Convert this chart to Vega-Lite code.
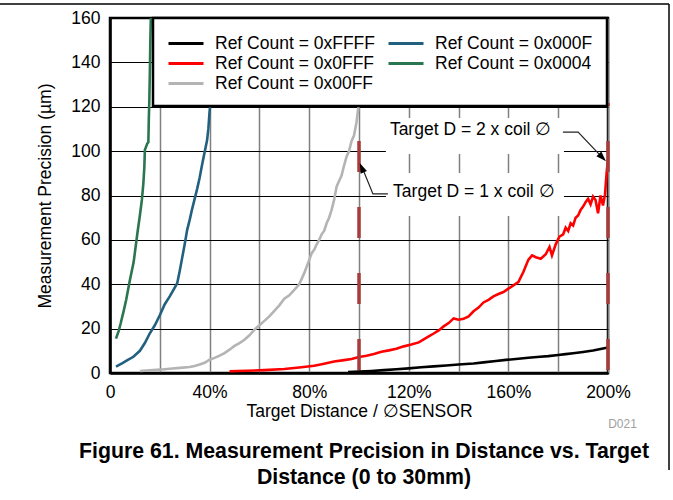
{
  "$schema": "https://vega.github.io/schema/vega-lite/v6.json",
  "width": 498,
  "height": 355,
  "autosize": {"type": "none"},
  "padding": {"left": 110, "top": 18, "right": 65, "bottom": 127},
  "background": "white",
  "config": {
    "font": "Liberation Sans",
    "view": {"stroke": "#000", "strokeWidth": 2.5},
    "legend": {"strokeWidth": 2.5},
    "axis": {"labelFont": "Liberation Sans", "titleFont": "Liberation Sans", "labelColor": "#000", "titleColor": "#000", "titleFontWeight": "normal"}
  },
  "title": {
    "text": ["Figure 61. Measurement Precision in Distance vs. Target", "Distance (0 to 30mm)"],
    "orient": "bottom",
    "anchor": "middle",
    "fontSize": 21.3,
    "fontWeight": "bold",
    "font": "Liberation Sans",
    "color": "#000",
    "lineHeight": 26,
    "offset": -30,
    "dx": 5
  },
  "encoding": {
    "x": {
      "field": "x", "type": "quantitative",
      "scale": {"domain": [0, 200], "nice": false, "zero": false},
      "axis": {
        "values": [0, 20, 40, 60, 80, 100, 120, 140, 160, 180, 200],
        "labelExpr": "datum.value % 40 == 0 ? (datum.value == 0 ? '0' : datum.value + '%') : ''",
        "title": "Target Distance / ∅SENSOR",
        "titleFontSize": 17.5,
        "titlePadding": 2,
        "labelFontSize": 17.5,
        "labelPadding": 10,
        "labelFlush": false,
        "labelOverlap": false,
        "ticks": false,
        "domainColor": "#000",
        "domainWidth": 2.5,
        "gridColor": "#808080",
        "gridWidth": 1.5,
        "gridOpacity": 1
      }
    },
    "y": {
      "field": "y", "type": "quantitative",
      "scale": {"domain": [0, 160], "nice": false, "zero": false},
      "axis": {
        "values": [0, 20, 40, 60, 80, 100, 120, 140, 160],
        "title": "Measurement Precision (µm)",
        "titleFontSize": 17.5,
        "titlePadding": 16,
        "labelFontSize": 17.5,
        "labelPadding": 10,
        "labelFlush": false,
        "ticks": false,
        "domainColor": "#000",
        "domainWidth": 2.5,
        "gridColor": "#000",
        "gridWidth": 1,
        "gridOpacity": 1
      }
    }
  },
  "layer": [
    {
      "data": {"values": [
        {"x": 110.8, "x2": 182.3, "y": 114.9, "y2": 98.7},
        {"x": 110.8, "x2": 182.3, "y": 90.1, "y2": 70.8}
      ]},
      "mark": {"type": "rect", "fill": "white", "stroke": null},
      "encoding": {"x2": {"field": "x2"}, "y2": {"field": "y2"}}
    },
    {
      "data": {"values": [
        {"s": "Ref Count = 0xFFFF", "x": 95.6, "y": 0.4}, {"s": "Ref Count = 0xFFFF", "x": 100, "y": 0.6}, {"s": "Ref Count = 0xFFFF", "x": 105, "y": 0.9}, {"s": "Ref Count = 0xFFFF", "x": 110, "y": 1.3}, {"s": "Ref Count = 0xFFFF", "x": 115, "y": 1.7}, {"s": "Ref Count = 0xFFFF", "x": 120, "y": 2.1}, {"s": "Ref Count = 0xFFFF", "x": 125, "y": 2.6}, {"s": "Ref Count = 0xFFFF", "x": 130, "y": 3.0}, {"s": "Ref Count = 0xFFFF", "x": 135, "y": 3.4}, {"s": "Ref Count = 0xFFFF", "x": 140, "y": 3.8}, {"s": "Ref Count = 0xFFFF", "x": 146, "y": 4.3}, {"s": "Ref Count = 0xFFFF", "x": 150, "y": 4.8}, {"s": "Ref Count = 0xFFFF", "x": 155, "y": 5.4}, {"s": "Ref Count = 0xFFFF", "x": 159, "y": 5.9}, {"s": "Ref Count = 0xFFFF", "x": 163, "y": 6.3}, {"s": "Ref Count = 0xFFFF", "x": 168, "y": 6.9}, {"s": "Ref Count = 0xFFFF", "x": 172.7, "y": 7.3}, {"s": "Ref Count = 0xFFFF", "x": 176, "y": 7.6}, {"s": "Ref Count = 0xFFFF", "x": 180, "y": 8.1}, {"s": "Ref Count = 0xFFFF", "x": 183, "y": 8.5}, {"s": "Ref Count = 0xFFFF", "x": 186, "y": 8.9}, {"s": "Ref Count = 0xFFFF", "x": 190, "y": 9.5}, {"s": "Ref Count = 0xFFFF", "x": 194, "y": 10.1}, {"s": "Ref Count = 0xFFFF", "x": 198, "y": 11.0}, {"s": "Ref Count = 0xFFFF", "x": 200, "y": 11.5},

        {"s": "Ref Count = 0x0FFF", "x": 48, "y": 0.8}, {"s": "Ref Count = 0x0FFF", "x": 55, "y": 1.0}, {"s": "Ref Count = 0x0FFF", "x": 62, "y": 1.3}, {"s": "Ref Count = 0x0FFF", "x": 70, "y": 1.8}, {"s": "Ref Count = 0x0FFF", "x": 76, "y": 2.5}, {"s": "Ref Count = 0x0FFF", "x": 82, "y": 3.3}, {"s": "Ref Count = 0x0FFF", "x": 86, "y": 4.2}, {"s": "Ref Count = 0x0FFF", "x": 90, "y": 5.2}, {"s": "Ref Count = 0x0FFF", "x": 94, "y": 5.8}, {"s": "Ref Count = 0x0FFF", "x": 97, "y": 6.3}, {"s": "Ref Count = 0x0FFF", "x": 100, "y": 7.2}, {"s": "Ref Count = 0x0FFF", "x": 103, "y": 7.8}, {"s": "Ref Count = 0x0FFF", "x": 106, "y": 8.6}, {"s": "Ref Count = 0x0FFF", "x": 109, "y": 9.6}, {"s": "Ref Count = 0x0FFF", "x": 112, "y": 10.2}, {"s": "Ref Count = 0x0FFF", "x": 115, "y": 10.9}, {"s": "Ref Count = 0x0FFF", "x": 118, "y": 12.0}, {"s": "Ref Count = 0x0FFF", "x": 121, "y": 12.8}, {"s": "Ref Count = 0x0FFF", "x": 124, "y": 13.8}, {"s": "Ref Count = 0x0FFF", "x": 126, "y": 15.2}, {"s": "Ref Count = 0x0FFF", "x": 128, "y": 16.5}, {"s": "Ref Count = 0x0FFF", "x": 130, "y": 17.8}, {"s": "Ref Count = 0x0FFF", "x": 132, "y": 19.2}, {"s": "Ref Count = 0x0FFF", "x": 134, "y": 21.0}, {"s": "Ref Count = 0x0FFF", "x": 136, "y": 22.5}, {"s": "Ref Count = 0x0FFF", "x": 138, "y": 24.6}, {"s": "Ref Count = 0x0FFF", "x": 140, "y": 24.0}, {"s": "Ref Count = 0x0FFF", "x": 142, "y": 24.4}, {"s": "Ref Count = 0x0FFF", "x": 144, "y": 25.5}, {"s": "Ref Count = 0x0FFF", "x": 146, "y": 27.8}, {"s": "Ref Count = 0x0FFF", "x": 148, "y": 29.5}, {"s": "Ref Count = 0x0FFF", "x": 150, "y": 31.8}, {"s": "Ref Count = 0x0FFF", "x": 152, "y": 33.0}, {"s": "Ref Count = 0x0FFF", "x": 154, "y": 34.5}, {"s": "Ref Count = 0x0FFF", "x": 156, "y": 35.6}, {"s": "Ref Count = 0x0FFF", "x": 158, "y": 36.5}, {"s": "Ref Count = 0x0FFF", "x": 160, "y": 38.0}, {"s": "Ref Count = 0x0FFF", "x": 162, "y": 39.5}, {"s": "Ref Count = 0x0FFF", "x": 164, "y": 41.0}, {"s": "Ref Count = 0x0FFF", "x": 166, "y": 45.5}, {"s": "Ref Count = 0x0FFF", "x": 168, "y": 51.0}, {"s": "Ref Count = 0x0FFF", "x": 169.5, "y": 53.0}, {"s": "Ref Count = 0x0FFF", "x": 171, "y": 52.2}, {"s": "Ref Count = 0x0FFF", "x": 173, "y": 51.5}, {"s": "Ref Count = 0x0FFF", "x": 175, "y": 53.5}, {"s": "Ref Count = 0x0FFF", "x": 176.5, "y": 56.8}, {"s": "Ref Count = 0x0FFF", "x": 177.5, "y": 53.0}, {"s": "Ref Count = 0x0FFF", "x": 179, "y": 58.0}, {"s": "Ref Count = 0x0FFF", "x": 180.5, "y": 61.5}, {"s": "Ref Count = 0x0FFF", "x": 182, "y": 62.5}, {"s": "Ref Count = 0x0FFF", "x": 183, "y": 65.5}, {"s": "Ref Count = 0x0FFF", "x": 184, "y": 64.0}, {"s": "Ref Count = 0x0FFF", "x": 185, "y": 67.5}, {"s": "Ref Count = 0x0FFF", "x": 186, "y": 66.5}, {"s": "Ref Count = 0x0FFF", "x": 187, "y": 70.0}, {"s": "Ref Count = 0x0FFF", "x": 188, "y": 71.0}, {"s": "Ref Count = 0x0FFF", "x": 189, "y": 73.5}, {"s": "Ref Count = 0x0FFF", "x": 190, "y": 75.0}, {"s": "Ref Count = 0x0FFF", "x": 191, "y": 77.0}, {"s": "Ref Count = 0x0FFF", "x": 192, "y": 78.5}, {"s": "Ref Count = 0x0FFF", "x": 193, "y": 76.0}, {"s": "Ref Count = 0x0FFF", "x": 194, "y": 79.5}, {"s": "Ref Count = 0x0FFF", "x": 195, "y": 78.0}, {"s": "Ref Count = 0x0FFF", "x": 196, "y": 72.0}, {"s": "Ref Count = 0x0FFF", "x": 197, "y": 80.0}, {"s": "Ref Count = 0x0FFF", "x": 198, "y": 75.5}, {"s": "Ref Count = 0x0FFF", "x": 198.8, "y": 80.5}, {"s": "Ref Count = 0x0FFF", "x": 199.5, "y": 91.0}, {"s": "Ref Count = 0x0FFF", "x": 200, "y": 96.0},

        {"s": "Ref Count = 0x00FF", "x": 12, "y": 0.9}, {"s": "Ref Count = 0x00FF", "x": 16, "y": 1.2}, {"s": "Ref Count = 0x00FF", "x": 20, "y": 1.5}, {"s": "Ref Count = 0x00FF", "x": 24, "y": 1.9}, {"s": "Ref Count = 0x00FF", "x": 28, "y": 2.3}, {"s": "Ref Count = 0x00FF", "x": 32, "y": 2.7}, {"s": "Ref Count = 0x00FF", "x": 34, "y": 3.2}, {"s": "Ref Count = 0x00FF", "x": 36, "y": 3.8}, {"s": "Ref Count = 0x00FF", "x": 38, "y": 4.6}, {"s": "Ref Count = 0x00FF", "x": 40, "y": 6.0}, {"s": "Ref Count = 0x00FF", "x": 42, "y": 6.8}, {"s": "Ref Count = 0x00FF", "x": 44, "y": 7.8}, {"s": "Ref Count = 0x00FF", "x": 46, "y": 9.0}, {"s": "Ref Count = 0x00FF", "x": 48, "y": 10.5}, {"s": "Ref Count = 0x00FF", "x": 50, "y": 12.2}, {"s": "Ref Count = 0x00FF", "x": 52, "y": 13.5}, {"s": "Ref Count = 0x00FF", "x": 54, "y": 15.0}, {"s": "Ref Count = 0x00FF", "x": 56, "y": 17.0}, {"s": "Ref Count = 0x00FF", "x": 58, "y": 19.5}, {"s": "Ref Count = 0x00FF", "x": 60, "y": 21.5}, {"s": "Ref Count = 0x00FF", "x": 62, "y": 23.5}, {"s": "Ref Count = 0x00FF", "x": 64, "y": 25.5}, {"s": "Ref Count = 0x00FF", "x": 66, "y": 28.0}, {"s": "Ref Count = 0x00FF", "x": 68, "y": 30.5}, {"s": "Ref Count = 0x00FF", "x": 70, "y": 33.5}, {"s": "Ref Count = 0x00FF", "x": 72, "y": 35.0}, {"s": "Ref Count = 0x00FF", "x": 74, "y": 37.5}, {"s": "Ref Count = 0x00FF", "x": 76, "y": 40.0}, {"s": "Ref Count = 0x00FF", "x": 78, "y": 45.0}, {"s": "Ref Count = 0x00FF", "x": 80, "y": 51.0}, {"s": "Ref Count = 0x00FF", "x": 81, "y": 54.0}, {"s": "Ref Count = 0x00FF", "x": 82, "y": 55.5}, {"s": "Ref Count = 0x00FF", "x": 83, "y": 58.0}, {"s": "Ref Count = 0x00FF", "x": 84, "y": 60.0}, {"s": "Ref Count = 0x00FF", "x": 85, "y": 62.5}, {"s": "Ref Count = 0x00FF", "x": 86, "y": 64.0}, {"s": "Ref Count = 0x00FF", "x": 87, "y": 67.5}, {"s": "Ref Count = 0x00FF", "x": 88, "y": 70.0}, {"s": "Ref Count = 0x00FF", "x": 89, "y": 73.5}, {"s": "Ref Count = 0x00FF", "x": 90, "y": 78.0}, {"s": "Ref Count = 0x00FF", "x": 91, "y": 84.0}, {"s": "Ref Count = 0x00FF", "x": 92, "y": 86.5}, {"s": "Ref Count = 0x00FF", "x": 93, "y": 89.0}, {"s": "Ref Count = 0x00FF", "x": 94, "y": 93.5}, {"s": "Ref Count = 0x00FF", "x": 95, "y": 97.5}, {"s": "Ref Count = 0x00FF", "x": 96, "y": 100.0}, {"s": "Ref Count = 0x00FF", "x": 97, "y": 104.5}, {"s": "Ref Count = 0x00FF", "x": 98, "y": 107.0}, {"s": "Ref Count = 0x00FF", "x": 99, "y": 113.0}, {"s": "Ref Count = 0x00FF", "x": 100, "y": 122.0},

        {"s": "Ref Count = 0x000F", "x": 2.4, "y": 2.9}, {"s": "Ref Count = 0x000F", "x": 5, "y": 4.5}, {"s": "Ref Count = 0x000F", "x": 7, "y": 5.8}, {"s": "Ref Count = 0x000F", "x": 9.4, "y": 7.3}, {"s": "Ref Count = 0x000F", "x": 12, "y": 10.0}, {"s": "Ref Count = 0x000F", "x": 14, "y": 13.5}, {"s": "Ref Count = 0x000F", "x": 16, "y": 17.9}, {"s": "Ref Count = 0x000F", "x": 18, "y": 21.5}, {"s": "Ref Count = 0x000F", "x": 20, "y": 26.0}, {"s": "Ref Count = 0x000F", "x": 22, "y": 31.0}, {"s": "Ref Count = 0x000F", "x": 24, "y": 34.5}, {"s": "Ref Count = 0x000F", "x": 26, "y": 38.5}, {"s": "Ref Count = 0x000F", "x": 27, "y": 40.5}, {"s": "Ref Count = 0x000F", "x": 28, "y": 46.0}, {"s": "Ref Count = 0x000F", "x": 29, "y": 52.0}, {"s": "Ref Count = 0x000F", "x": 30, "y": 58.0}, {"s": "Ref Count = 0x000F", "x": 31, "y": 64.5}, {"s": "Ref Count = 0x000F", "x": 32, "y": 69.0}, {"s": "Ref Count = 0x000F", "x": 33, "y": 74.0}, {"s": "Ref Count = 0x000F", "x": 34, "y": 78.5}, {"s": "Ref Count = 0x000F", "x": 35, "y": 83.0}, {"s": "Ref Count = 0x000F", "x": 36, "y": 88.0}, {"s": "Ref Count = 0x000F", "x": 37, "y": 94.0}, {"s": "Ref Count = 0x000F", "x": 38, "y": 99.5}, {"s": "Ref Count = 0x000F", "x": 39, "y": 105.0}, {"s": "Ref Count = 0x000F", "x": 39.5, "y": 110.0}, {"s": "Ref Count = 0x000F", "x": 40, "y": 118.0}, {"s": "Ref Count = 0x000F", "x": 40.5, "y": 123.0},

        {"s": "Ref Count = 0x0004", "x": 2.4, "y": 15.5}, {"s": "Ref Count = 0x0004", "x": 3.5, "y": 19.0}, {"s": "Ref Count = 0x0004", "x": 4.3, "y": 22.4}, {"s": "Ref Count = 0x0004", "x": 5.5, "y": 28.0}, {"s": "Ref Count = 0x0004", "x": 6.5, "y": 33.0}, {"s": "Ref Count = 0x0004", "x": 8, "y": 41.9}, {"s": "Ref Count = 0x0004", "x": 9.5, "y": 50.0}, {"s": "Ref Count = 0x0004", "x": 11, "y": 63.0}, {"s": "Ref Count = 0x0004", "x": 12, "y": 71.0}, {"s": "Ref Count = 0x0004", "x": 12.8, "y": 78.0}, {"s": "Ref Count = 0x0004", "x": 13.4, "y": 85.5}, {"s": "Ref Count = 0x0004", "x": 13.8, "y": 93.0}, {"s": "Ref Count = 0x0004", "x": 14, "y": 100.5}, {"s": "Ref Count = 0x0004", "x": 15, "y": 103.5}, {"s": "Ref Count = 0x0004", "x": 15.4, "y": 104.0}, {"s": "Ref Count = 0x0004", "x": 15.6, "y": 115.0}, {"s": "Ref Count = 0x0004", "x": 15.8, "y": 123.0}, {"s": "Ref Count = 0x0004", "x": 16, "y": 135.0}, {"s": "Ref Count = 0x0004", "x": 16.2, "y": 150.0}, {"s": "Ref Count = 0x0004", "x": 16.4, "y": 160.0}, {"s": "Ref Count = 0x0004", "x": 16.5, "y": 165.0}
      ]},
      "mark": {"type": "line", "strokeWidth": 2.6, "clip": true},
      "encoding": {
        "color": {
          "field": "s", "type": "nominal",
          "scale": {
            "domain": ["Ref Count = 0xFFFF", "Ref Count = 0x0FFF", "Ref Count = 0x00FF", "Ref Count = 0x000F", "Ref Count = 0x0004"],
            "range": ["#000000", "#ff0000", "#b4b4b4", "#22607f", "#2a7650"]
          },
          "legend": {
            "title": null,
            "orient": "none",
            "legendX": 43,
            "legendY": 0,
            "columns": 2,
            "columnPadding": 7,
            "rowPadding": -1,
            "padding": 14,
            "fillColor": "white",
            "strokeColor": "#000",
            "symbolType": "M-1,0H2.5",
            "symbolSize": 400,
            "symbolStrokeWidth": 3,
            "symbolFillColor": "transparent",
            "labelFontSize": 17.5,
            "labelFont": "Liberation Sans",
            "labelColor": "#000",
            "labelOffset": 25,
            "labelLimit": 400
          }
        },
        "order": {"field": "x", "type": "quantitative"}
      }
    },
    {
      "data": {"values": [{"x": 100, "y": 0, "y2": 121.7}, {"x": 200, "y": 0, "y2": 121.7}]},
      "mark": {"type": "rule", "stroke": "#a83c3c", "strokeWidth": 3.5, "strokeDash": [31, 35], "strokeDashOffset": 63},
      "encoding": {"y2": {"field": "y2"}}
    },
    {
      "data": {"values": [
        {"id": "a2", "k": 1, "x": 181.9, "y": 108.6}, {"id": "a2", "k": 2, "x": 188.0, "y": 108.6}, {"id": "a2", "k": 3, "x": 196.8, "y": 98.2},
        {"id": "a1", "k": 1, "x": 111.6, "y": 80.7}, {"id": "a1", "k": 2, "x": 105.6, "y": 80.7}, {"id": "a1", "k": 3, "x": 102.0, "y": 90.6}
      ]},
      "mark": {"type": "line", "stroke": "#222", "strokeWidth": 1.2},
      "encoding": {"detail": {"field": "id"}, "order": {"field": "k", "type": "quantitative"}}
    },
    {
      "data": {"values": [{"x": 197.6, "y": 97.3, "a": 136}, {"x": 101.2, "y": 92.3, "a": -23}]},
      "mark": {"type": "point", "shape": "M0,-1L0.6,0.8L-0.6,0.8Z", "filled": true, "color": "#000", "opacity": 1, "size": 130},
      "encoding": {"angle": {"field": "a", "type": "quantitative", "scale": null}}
    },
    {
      "data": {"values": [{"x": 112.4, "y": 109.5, "t": "Target D = 2 x coil ∅"}, {"x": 113.7, "y": 81.6, "t": "Target D = 1 x coil ∅"}]},
      "mark": {"type": "text", "align": "left", "baseline": "middle", "fontSize": 17.5, "font": "Liberation Sans", "color": "#000"},
      "encoding": {"text": {"field": "t"}}
    },
    {
      "data": {"values": [{"x": 211.6, "y": -23, "t": "D021"}]},
      "mark": {"type": "text", "align": "right", "baseline": "middle", "fontSize": 12, "font": "Liberation Sans", "color": "#a0a0a0", "clip": false},
      "encoding": {"text": {"field": "t"}}
    },
    {
      "data": {"values": [{"x": -44.2, "x2": 224.5, "y": 166.3, "y2": 166.3}, {"x": 224.5, "x2": 224.5, "y": 166.3, "y2": -43.7}]},
      "mark": {"type": "rule", "stroke": "#000", "strokeWidth": 1.5, "clip": false},
      "encoding": {"x2": {"field": "x2"}, "y2": {"field": "y2"}}
    }
  ]
}
